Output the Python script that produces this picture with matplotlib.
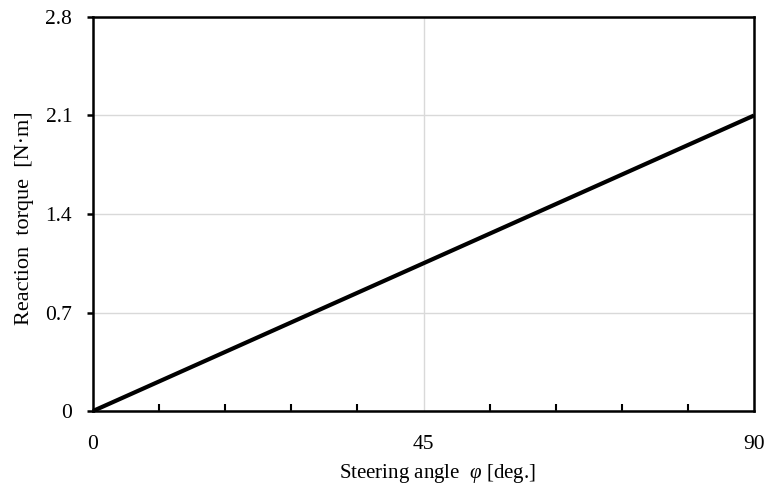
import matplotlib
matplotlib.use("Agg")
import matplotlib.pyplot as plt
from matplotlib.ticker import MultipleLocator

angle = [0, 45, 90]
torque = [0, 1.05, 2.1]
xticks = [0, 45, 90]
yticks = [0, 0.7, 1.4, 2.1, 2.8]
ytick_labels = ["0", "0.7", "1.4", "2.1", "2.8"]

plt.rcParams['font.family'] = ['Liberation Serif', 'DejaVu Serif']
plt.rcParams['mathtext.fontset'] = 'custom'
plt.rcParams['mathtext.it'] = 'Liberation Serif:italic'
plt.rcParams['mathtext.rm'] = 'Liberation Serif'
fig = plt.figure(figsize=(7.73, 4.97), dpi=100)
ax = fig.add_axes([93/773, 1-411/497, (754-93)/773, (411-17)/497])
ax.plot(angle, torque, color='black', lw=3.0, solid_capstyle='butt', clip_on=False, zorder=3)
ax.set_xlim(0, 90)
ax.set_ylim(0, 2.8)
ax.set_xticks(xticks)
ax.set_xticklabels([str(v) for v in xticks])
ax.set_yticks(yticks)
ax.set_yticklabels(ytick_labels)
ax.xaxis.set_minor_locator(MultipleLocator(9))
ax.grid(True, which='major', color='#d9d9d9', lw=1.0)
ax.set_axisbelow(True)
for s in ax.spines.values():
    s.set_linewidth(1.8)
    s.set_color('black')
ax.tick_params(axis='x', which='major', direction='in', length=0, pad=17, labelsize=15.5)
ax.tick_params(axis='x', which='minor', direction='in', length=5, width=1.5)
ax.tick_params(axis='y', which='major', direction='out', length=4, width=1.8, pad=11, labelsize=15.5)
ax.set_xlabel("Steering angle  $\\varphi$ [deg.]", fontsize=15)
ax.set_ylabel("Reaction  torque  [N·m]", fontsize=16)
ax.xaxis.set_label_coords(0.521, -0.13)
ax.yaxis.set_label_coords(-0.089, 0.49)
fig.savefig("out.png", dpi=100)
